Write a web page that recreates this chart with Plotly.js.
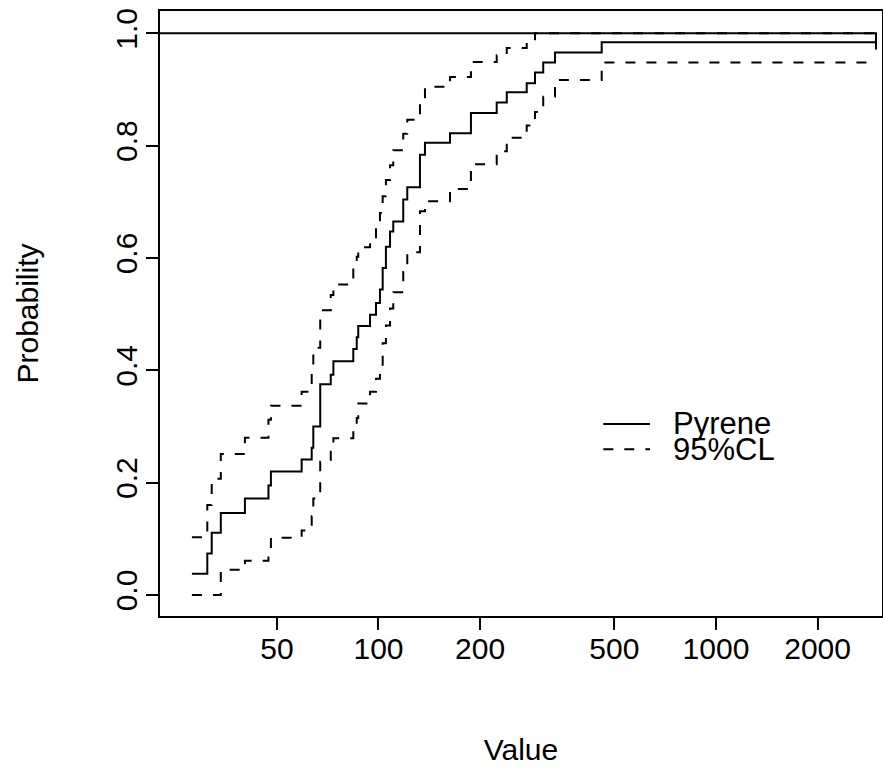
<!DOCTYPE html>
<html>
<head>
<meta charset="utf-8">
<script src="https://cdn.plot.ly/plotly-3.0.1.min.js"></script>
<style>html,body{margin:0;padding:0;background:#fff}#chart{width:883px;height:770px}</style>
</head>
<body>
<div id="chart"></div>
<script>
// Jump locations (Value) of the empirical CDF and its confidence limits
var values = [28.0, 31.1, 32.05, 34.1, 40.2, 47.2, 48.0, 59.2, 63.4, 64.1, 67.2, 72.2, 73.5,
  84.2, 86.2, 87.1, 94.4, 98.3, 101.0, 102.9, 105.2, 108.2, 110.6, 118.4, 121.7, 132.7,
  137.3, 162.9, 187.9, 224.0, 239.9, 274.9, 290.9, 307.7, 333.4, 458.5, 2979];
var pyrene = [0.038, 0.074, 0.111, 0.146, 0.172, 0.195, 0.220, 0.241, 0.262, 0.300, 0.375, 0.392, 0.416,
  0.438, 0.459, 0.479, 0.499, 0.520, 0.544, 0.582, 0.620, 0.647, 0.665, 0.704, 0.726, 0.784,
  0.805, 0.822, 0.858, 0.877, 0.895, 0.911, 0.930, 0.948, 0.966, 0.984, 1.0];
var upperCL = [0.103, 0.160, 0.207, 0.251, 0.280, 0.312, 0.337, 0.362, 0.400, 0.440, 0.507, 0.534, 0.553,
  0.585, 0.602, 0.619, 0.632, 0.655, 0.680, 0.710, 0.739, 0.765, 0.792, 0.821, 0.846, 0.880,
  0.905, 0.922, 0.949, 0.961, 0.974, 0.987, 1.0, 1.0, 1.0, 1.0, 1.0];
var lowerCL = [0.0, 0.0, 0.0, 0.045, 0.061, 0.083, 0.102, 0.115, 0.140, 0.172, 0.237, 0.255, 0.279,
  0.295, 0.315, 0.341, 0.362, 0.385, 0.410, 0.448, 0.480, 0.510, 0.539, 0.575, 0.610, 0.683,
  0.701, 0.723, 0.767, 0.790, 0.814, 0.836, 0.860, 0.887, 0.917, 0.948, 0.948];
// Reference line at probability 1
var refX = [20, 2979, 2979];
var refY = [1.0, 1.0, 0.971];

var xTicks = [50, 100, 200, 500, 1000, 2000];
var xTickText = ['50', '100', '200', '500', '1000', '2000'];
var yTicks = [0, 0.2, 0.4, 0.6, 0.8, 1.0];
var yTickText = ['0.0', '0.2', '0.4', '0.6', '0.8', '1.0'];
var legendNames = ['Pyrene', '95%CL'];

var FONT = '"Liberation Sans", Arial, Helvetica, sans-serif';
var DASH = '10px,11px';

var traces = [
  {x: refX, y: refY, mode: 'lines', line: {color: '#000', width: 2}, hoverinfo: 'skip', showlegend: false},
  {x: values, y: upperCL, mode: 'lines', line: {shape: 'hv', color: '#000', width: 2, dash: DASH}, name: legendNames[1], showlegend: false},
  {x: values, y: lowerCL, mode: 'lines', line: {shape: 'hv', color: '#000', width: 2, dash: DASH}, name: legendNames[1], showlegend: false},
  {x: values, y: pyrene, mode: 'lines', line: {shape: 'hv', color: '#000', width: 2}, name: legendNames[0], showlegend: false}
];

var layout = {
  width: 883, height: 770,
  margin: {l: 160, r: 1, t: 11, b: 154, pad: 0},
  paper_bgcolor: '#fff', plot_bgcolor: '#fff',
  font: {family: FONT, size: 30, color: '#000'},
  showlegend: false,
  xaxis: {
    type: 'log', range: [1.3526, 3.4919],
    tickvals: xTicks, ticktext: xTickText,
    ticks: 'outside', ticklen: 12, tickwidth: 2, tickcolor: '#000',
    showline: true, mirror: true, linecolor: '#000', linewidth: 2,
    showgrid: false, zeroline: false,
    tickfont: {family: FONT, size: 30, color: '#000'},
    ticklabelstandoff: -7,
    title: {text: 'Value', font: {family: FONT, size: 30, color: '#000'}, standoff: 75}
  },
  yaxis: {
    range: [-0.0374, 1.0397],
    tickvals: yTicks, ticktext: yTickText, tickangle: -90,
    ticks: 'outside', ticklen: 12, tickwidth: 2, tickcolor: '#000',
    showline: true, mirror: true, linecolor: '#000', linewidth: 2,
    showgrid: false, zeroline: false,
    tickfont: {family: FONT, size: 30, color: '#000'},
    ticklabelstandoff: -3,
    title: {text: 'Probability', font: {family: FONT, size: 30, color: '#000'}, standoff: 63}
  },
  shapes: [
    {type: 'line', xref: 'paper', yref: 'paper', x0: 0.614, x1: 0.6787, y0: 0.3174, y1: 0.3174, line: {color: '#000', width: 2}},
    {type: 'line', xref: 'paper', yref: 'paper', x0: 0.614, x1: 0.6787, y0: 0.2755, y1: 0.2755, line: {color: '#000', width: 2, dash: DASH}}
  ],
  annotations: [
    {xref: 'paper', yref: 'paper', x: 0.708, y: 0.3174, xanchor: 'left', yanchor: 'middle', text: legendNames[0], showarrow: false, font: {family: FONT, size: 31, color: '#000'}},
    {xref: 'paper', yref: 'paper', x: 0.708, y: 0.2755, xanchor: 'left', yanchor: 'middle', text: legendNames[1], showarrow: false, font: {family: FONT, size: 31, color: '#000'}}
  ]
};

Plotly.newPlot('chart', traces, layout, {staticPlot: true, displayModeBar: false});
</script>
</body>
</html>
